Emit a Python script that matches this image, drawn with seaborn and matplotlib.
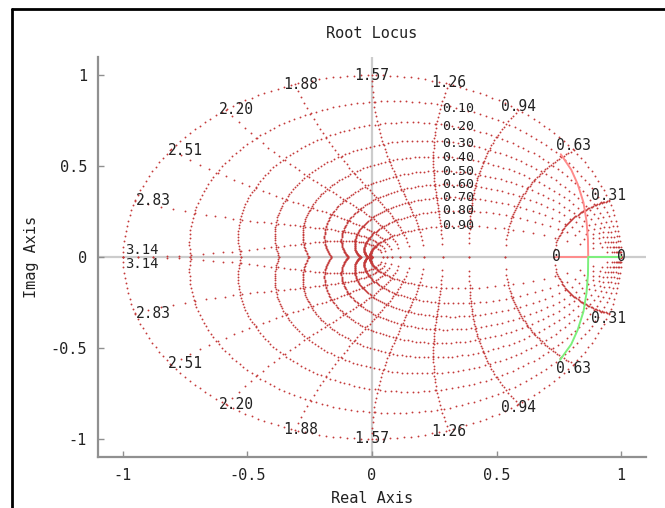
import numpy as np
import pandas as pd
import matplotlib
matplotlib.use("Agg")
import matplotlib.pyplot as plt
import seaborn as sns
from matplotlib.lines import Line2D

# z-plane grid: damping ratios and natural frequencies (rad/sample)
zeta_values = [0.0, 0.1, 0.2, 0.3, 0.4, 0.5, 0.6, 0.7, 0.8, 0.9]
zeta_labels = ["0.10", "0.20", "0.30", "0.40", "0.50", "0.60", "0.70", "0.80", "0.90"]
wn_steps = [1, 2, 3, 4, 5, 6, 7, 8, 9, 10]  # multiples of pi/10
wn_labels = ["0.31", "0.63", "0.94", "1.26", "1.57", "1.88", "2.20", "2.51", "2.83", "3.14"]

# open-loop poles on the real axis
pole_re = [0.74, 1.0]

# locus branches
branch1_re = [0.74, 0.868, 0.867, 0.861, 0.849, 0.826, 0.80, 0.758]
branch1_im = [0.0, 0.0, 0.1, 0.2, 0.3, 0.4, 0.48, 0.565]
branch2_re = [1.0, 0.868, 0.867, 0.861, 0.849, 0.826, 0.80, 0.755]
branch2_im = [0.0, 0.0, -0.1, -0.2, -0.3, -0.4, -0.48, -0.566]

ticks = [-1, -0.5, 0, 0.5, 1]
tick_text = ["-1", "-0.5", "0", "0.5", "1"]

sns.set_theme(style="white")
plt.rcParams["font.family"] = ["DejaVu Sans Mono"]

fig = plt.figure(figsize=(6.65, 5.08), dpi=100)
ax = fig.add_axes([0.1474, 0.1004, 0.8240, 0.7874])

## grid dots (zgrid style)
pts = []
for zeta in zeta_values:
    wd = np.sqrt(1 - zeta**2)
    w = np.linspace(0, np.pi / wd, 110)
    z = np.exp(w * (-zeta + 1j * wd))
    pts.append(z)
    pts.append(np.conj(z))
for k in wn_steps:
    wn = k * np.pi / 10
    zt = np.linspace(0, 1, 50)
    z = np.exp(wn * (-zt + 1j * np.sqrt(1 - zt**2)))
    pts.append(z)
    pts.append(np.conj(z))
pts = np.concatenate(pts)
grid_df = pd.DataFrame({"re": pts.real, "im": pts.imag})

ax.axhline(0, color="#cccccc", lw=1.6, zorder=0)
ax.axvline(0, color="#cccccc", lw=1.6, zorder=0)

sns.scatterplot(data=grid_df, x="re", y="im", s=1.8, color="#c43a3a",
                linewidth=0, ax=ax, zorder=1)

## locus branches
b1 = pd.DataFrame({"re": branch1_re, "im": branch1_im})
b2 = pd.DataFrame({"re": branch2_re, "im": branch2_im})
sns.lineplot(data=b1, x="re", y="im", sort=False, color="#ff8c8c", lw=1.4, ax=ax, zorder=3)
sns.lineplot(data=b2, x="re", y="im", sort=False, color="#7cf07c", lw=1.4, ax=ax, zorder=3)

for p in pole_re:
    ax.text(p, 0, "0", ha="center", va="center", fontsize=10.5, color="#222222", zorder=4)

## labels of the grid
for zeta, lab in zip(zeta_values[1:], zeta_labels):
    wd = np.sqrt(1 - zeta**2)
    w = np.linspace(0, np.pi / wd, 2000)
    z = np.exp(w * (-zeta + 1j * wd))
    i = np.argmax(z.real < 0.345)
    ax.text(0.345, z.imag[i], lab, ha="center", va="center", fontsize=9.5,
            color="#222222", zorder=4)

for k, lab in zip(wn_steps, wn_labels):
    wn = k * np.pi / 10
    c, s = np.cos(wn), np.sin(wn)
    x = c + 0.075 * max(0, -c)
    y = s + 0.03 * max(c, 0)
    fs = 10.5
    if k == 10:
        y = 0.04
        fs = 10
    ax.text(x, y, lab, ha="center", va="center", fontsize=fs, color="#222222", zorder=4)
    ax.text(x, -y, lab, ha="center", va="center", fontsize=fs, color="#222222", zorder=4)

ax.set_xlim(-1.1, 1.1)
ax.set_ylim(-1.1, 1.1)
ax.set_xticks(ticks)
ax.set_xticklabels(tick_text)
ax.set_yticks(ticks)
ax.set_yticklabels(tick_text)
ax.tick_params(direction="in", length=4, width=1, color="#909090",
               labelsize=11, labelcolor="#222222", pad=8,
               bottom=True, left=True)
for side in ["top", "right"]:
    ax.spines[side].set_visible(False)
for side in ["left", "bottom"]:
    ax.spines[side].set_color("#909090")
    ax.spines[side].set_linewidth(1.6)

ax.set_title("Root Locus", fontsize=11, color="#222222", pad=14)
ax.set_xlabel("Real Axis", fontsize=11, color="#222222", labelpad=6)
ax.set_ylabel("Imag Axis", fontsize=11, color="#222222", labelpad=8)

# outer frame (only the top and left edges are in the picture)
fig.add_artist(Line2D([0.018, 1.05], [0.982, 0.982], color="black", lw=2, transform=fig.transFigure))
fig.add_artist(Line2D([0.018, 0.018], [-0.05, 0.982], color="black", lw=2, transform=fig.transFigure))

fig.savefig("out.png", dpi=100)
